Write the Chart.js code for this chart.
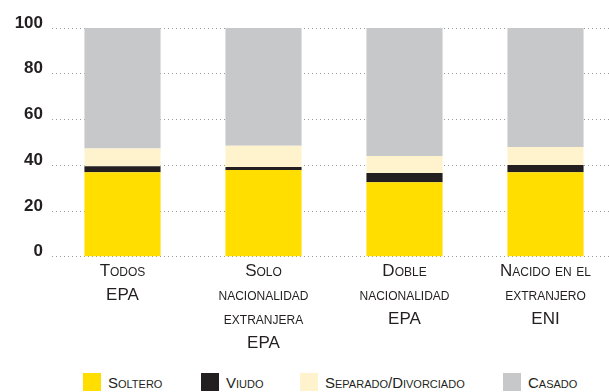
<!DOCTYPE html>
<html lang="es">
<head>
    <meta charset="UTF-8">
    <title>Estado civil</title>
    <script src="https://cdn.jsdelivr.net/npm/chart.js"></script>
    <style>
        body {
            margin: 0;
            background: #fff;
            font-family: "Liberation Sans", Arial, sans-serif;
            color: #231f20;
            overflow: hidden;
        }
        /* a little wider than the window so the last column sits where it should */
        .chart-box {
            position: relative;
            width: 616px;
            height: 350px;
        }
        #legend {
            display: flex;
            align-items: center;
            margin: 23px 0 0 83px;
            font-size: 15px;
            font-variant: small-caps;
        }
        #legend .item {
            display: flex;
            align-items: center;
        }
        #legend .swatch {
            width: 18px;
            height: 18px;
            margin-right: 7px;
        }
    </style>
</head>
<body>
    <div class="chart-box">
        <canvas id="civilChart"></canvas>
    </div>
    <div id="legend"></div>

    <script>
        // categories (one label line per array entry)
        const categories = [
            ['Todos', 'EPA'],
            ['Solo', 'nacionalidad', 'extranjera', 'EPA'],
            ['Doble', 'nacionalidad', 'EPA'],
            ['Nacido en el', 'extranjero', 'ENI']
        ];

        // percentages per marital status
        const soltero  = [37.0, 37.9, 32.6, 37.0];
        const viudo    = [2.6, 1.3, 4.0, 3.1];
        const separado = [7.7, 9.3, 7.5, 7.9];
        const casado   = [52.7, 51.5, 55.9, 52.0];

        const yTicks = [0, 20, 40, 60, 80, 100];

        const seriesNames  = ['Soltero', 'Viudo', 'Separado/Divorciado', 'Casado'];
        const seriesColors = ['#ffde00', '#231f20', '#fff3cd', '#c7c8ca'];
        const seriesData   = [soltero, viudo, separado, casado];

        // legend item widths so the swatches line up under the chart
        const legendWidths = [118, 99, 203, 100];

        const datasets = seriesNames.map((name, i) => ({
            label: name,
            data: seriesData[i],
            backgroundColor: seriesColors[i],
            borderWidth: 0,
            barPercentage: 0.54,
            categoryPercentage: 1
        }));

        const textColor = '#231f20';

        new Chart(document.getElementById('civilChart'), {
            type: 'bar',
            data: { labels: categories, datasets: datasets },
            options: {
                responsive: true,
                maintainAspectRatio: false,
                animation: false,
                layout: { padding: { top: 28, right: 0, left: 0, bottom: 0 } },
                plugins: {
                    legend: { display: false },
                    tooltip: { enabled: false }
                },
                scales: {
                    x: {
                        stacked: true,
                        grid: { display: false },
                        border: { display: false },
                        ticks: {
                            color: textColor,
                            padding: -5,
                            maxRotation: 0,
                            autoSkip: false,
                            // weight slot carries the font-variant for small caps
                            font: {
                                family: '"Liberation Sans", Arial, sans-serif',
                                size: 17,
                                weight: 'small-caps',
                                lineHeight: 1.4
                            }
                        }
                    },
                    y: {
                        stacked: true,
                        min: 0,
                        max: 100,
                        afterBuildTicks: axis => {
                            axis.ticks = yTicks.map(v => ({ value: v }));
                        },
                        afterFit: axis => { axis.width = 52; },
                        grid: {
                            color: '#9a9a9a',
                            lineWidth: 1,
                            drawTicks: false
                        },
                        border: { display: false, dash: [1, 3] },
                        ticks: {
                            color: textColor,
                            padding: 9,
                            labelOffset: -5,
                            font: {
                                family: '"Liberation Sans", Arial, sans-serif',
                                size: 17,
                                weight: 'bold'
                            }
                        }
                    }
                }
            }
        });

        // html legend built from the same series arrays
        const legend = document.getElementById('legend');
        seriesNames.forEach((name, i) => {
            const item = document.createElement('div');
            item.className = 'item';
            item.style.width = legendWidths[i] + 'px';
            const sw = document.createElement('span');
            sw.className = 'swatch';
            sw.style.background = seriesColors[i];
            const txt = document.createElement('span');
            txt.textContent = name;
            item.appendChild(sw);
            item.appendChild(txt);
            legend.appendChild(item);
        });
    </script>
</body>
</html>
